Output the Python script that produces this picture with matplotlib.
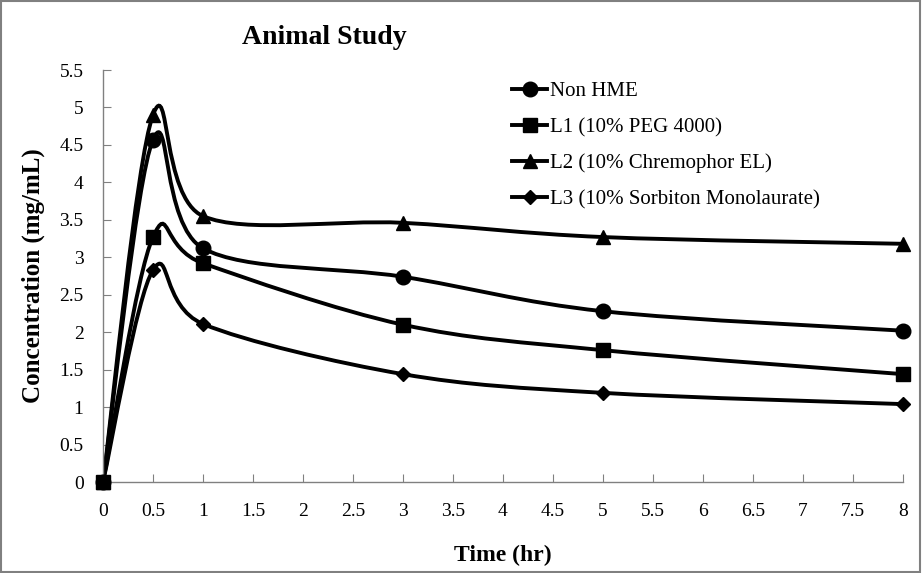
import matplotlib
matplotlib.use("Agg")
import matplotlib.pyplot as plt
from matplotlib.path import Path
from matplotlib.patches import PathPatch, Rectangle
from matplotlib.lines import Line2D

plt.rcParams['font.family'] = ['Liberation Serif', 'DejaVu Serif']

time_hr = [0, 0.5, 1, 3, 5, 8]
non_hme = [0, 4.57, 3.12, 2.74, 2.28, 2.02]
l1_peg = [0, 3.27, 2.92, 2.10, 1.76, 1.44]
l2_chrem = [0, 4.90, 3.55, 3.46, 3.27, 3.18]
l3_sorb = [0, 2.83, 2.11, 1.44, 1.19, 1.04]

series = [
    ('Non HME', non_hme, 'o', 10.5),
    ('L1 (10% PEG 4000)', l1_peg, 's', 10),
    ('L2 (10% Chremophor EL)', l2_chrem, '^', 10.5),
    ('L3 (10% Sorbiton Monolaurate)', l3_sorb, 'D', 7.5),
]


def smooth_path(xs, ys):
    # Excel-style smoothed line: cubic Bezier segments, Catmull-Rom tangents /6
    pts = list(zip(xs, ys))
    n = len(pts)
    verts = [pts[0]]
    codes = [Path.MOVETO]
    for i in range(n - 1):
        p0 = pts[i - 1] if i > 0 else pts[i]
        p1 = pts[i]
        p2 = pts[i + 1]
        p3 = pts[i + 2] if i + 2 < n else pts[i + 1]
        c1 = (p1[0] + (p2[0] - p0[0]) / 6, p1[1] + (p2[1] - p0[1]) / 6)
        c2 = (p2[0] - (p3[0] - p1[0]) / 6, p2[1] - (p3[1] - p1[1]) / 6)
        verts += [c1, c2, p2]
        codes += [Path.CURVE4] * 3
    return Path(verts, codes)


fig = plt.figure(figsize=(9.22, 5.73), dpi=100)
ax = fig.add_axes([0.1117, 0.1588, 0.8677, 0.719])

handles = []
for name, vals, mk, ms in series:
    ax.add_patch(PathPatch(smooth_path(time_hr, vals), facecolor='none',
                           edgecolor='black', lw=2.8, zorder=2))
    ax.plot(time_hr, vals, linestyle='none', marker=mk, markersize=ms,
            color='black', zorder=3, clip_on=False)
    handles.append(Line2D([], [], color='black', lw=2.8, marker=mk, markersize=ms))

ax.set_xlim(0, 8)
ax.set_ylim(0, 5.5)
ax.set_xticks([i * 0.5 for i in range(17)])
ax.set_xticklabels(['0', '0.5', '1', '1.5', '2', '2.5', '3', '3.5', '4', '4.5',
                    '5', '5.5', '6', '6.5', '7', '7.5', '8'])
ax.set_yticks([i * 0.5 for i in range(12)])
ax.set_yticklabels(['0', '0.5', '1', '1.5', '2', '2.5', '3', '3.5', '4', '4.5',
                    '5', '5.5'])

for s in ['top', 'right']:
    ax.spines[s].set_visible(False)
for s in ['left', 'bottom']:
    ax.spines[s].set_color('#808080')
    ax.spines[s].set_linewidth(1)
ax.tick_params(direction='in', length=6, color='#808080', labelsize=14)
ax.tick_params(axis='x', pad=15)
ax.tick_params(axis='y', pad=14)

ax.set_xlabel('Time (hr)', fontsize=17, fontweight='bold', labelpad=18)
ax.set_ylabel('Concentration (mg/mL)', fontsize=18, fontweight='bold', labelpad=10)
fig.text(0.352, 0.935, 'Animal Study', fontsize=20, fontweight='bold',
         ha='center', va='center')

ax.legend(handles, [s[0] for s in series], loc='upper left',
          bbox_to_anchor=(0.535, 0.89), bbox_transform=fig.transFigure,
          frameon=False, fontsize=15, labelspacing=0.78, handlelength=1.7,
          handletextpad=0.1)

fig.patches.append(Rectangle((0.001, 0.001), 0.997, 0.997, transform=fig.transFigure,
                             fill=False, edgecolor='#808080', lw=1.5))

fig.savefig('out.png', dpi=100)
